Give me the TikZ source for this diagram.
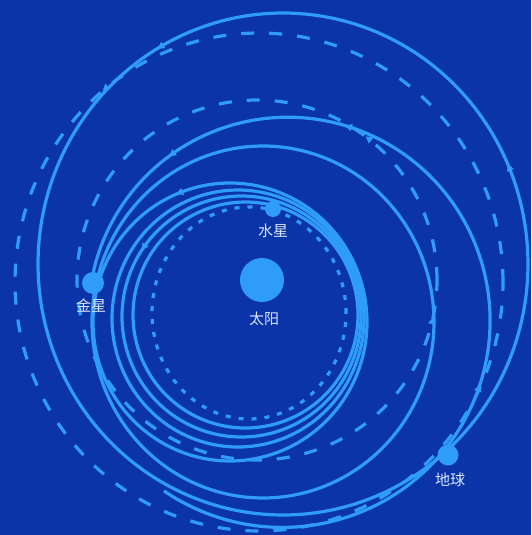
\documentclass[tikz,border=0pt]{standalone}
\usepackage{fontspec}
\newfontfamily\cjkfont{Noto Sans CJK SC}
\usetikzlibrary{decorations.markings,arrows.meta}
\definecolor{sky}{RGB}{10,52,168}
\definecolor{trace}{RGB}{46,156,248}
\definecolor{caption}{RGB}{218,230,252}
\tikzset{
  traj/.style={draw=trace, line width=3.2pt},
  orbitdash/.style={draw=trace, line width=3.2pt, dash pattern=on 13pt off 15pt},
  orbitdot/.style={draw=trace, line width=3.2pt, dash pattern=on 5pt off 8pt},
  body/.style={circle, fill=trace, inner sep=0pt},
  lab/.style={text=caption, font=\cjkfont\fontsize{15}{16}\selectfont, inner sep=0pt},
  dir/.style={postaction={decorate, decoration={markings,
      mark=at position #1 with {\arrow{Triangle[length=7pt,width=7pt]}}}}}
}
\begin{document}
\begin{tikzpicture}[x=1pt,y=-1pt]
\fill[sky] (0,0) rectangle (531,535);
\useasboundingbox (0,0) rectangle (531,535);

% planetary orbits
\draw[orbitdash, dir=0.36] plot[domain=0:-360, samples=240, variable=\t]
  ({259+244*cos(\t)},{282+249*sin(\t)});
\draw[orbitdash, dir=0.147, dir=0.967] plot[domain=0:-360, samples=200, variable=\t]
  ({257+180*cos(\t)},{280+180*sin(\t)});
\draw[orbitdot] plot[domain=0:-360, samples=160, variable=\t]
  ({249+97*cos(\t)},{313+106*sin(\t)});

% launch loop back to Earth
\draw[traj, dir=0.203, dir=0.472] plot[domain=49:-311, samples=240, variable=\t]
  ({283+245*cos(\t)},{264+251*sin(\t)});
% Earth to Venus
\draw[traj, dir=0.369, dir=0.68, dir=0.857] plot[domain=125:-169, samples=200, variable=\t]
  ({285+(197+10*(\t+169)/209)*cos(\t)},{318+(197+10*(\t+169)/209)*sin(\t)});
% Venus to Venus
\draw[traj] plot[domain=193:-167, samples=220, variable=\t]
  ({263+171*cos(\t)},{322+176*sin(\t)});
% loops down to Mercury
\draw[traj, dir=0.853] plot[domain=194:-166, samples=200, variable=\t]
  ({230+137*cos(\t)},{322+139*sin(\t)});
\draw[traj] plot[domain=180:-180, samples=200, variable=\t]
  ({238+126*cos(\t)},{318.5+128.5*sin(\t)});
\draw[traj, dir=0.907] plot[domain=180:-180, samples=200, variable=\t]
  ({241.5+119.5*cos(\t)},{316.5+120.5*sin(\t)});
\draw[traj] plot[domain=180:-180, samples=200, variable=\t]
  ({245.5+112.5*cos(\t)},{315+113*sin(\t)});

% bodies
\node[body, minimum size=44pt] (sun) at (262,280) {};
\node[body, minimum size=22pt] (venus) at (93,283) {};
\node[body, minimum size=16pt] (mercury) at (273,209) {};
\node[body, minimum size=21pt] (earth) at (448,455) {};

% names
\node[lab] (mercurylabel) at (273,231) {水星};
\node[lab] (sunlabel) at (264,319) {太阳};
\node[lab] (venuslabel) at (91,306) {金星};
\node[lab] (earthlabel) at (450,480) {地球};
\end{tikzpicture}
\end{document}
